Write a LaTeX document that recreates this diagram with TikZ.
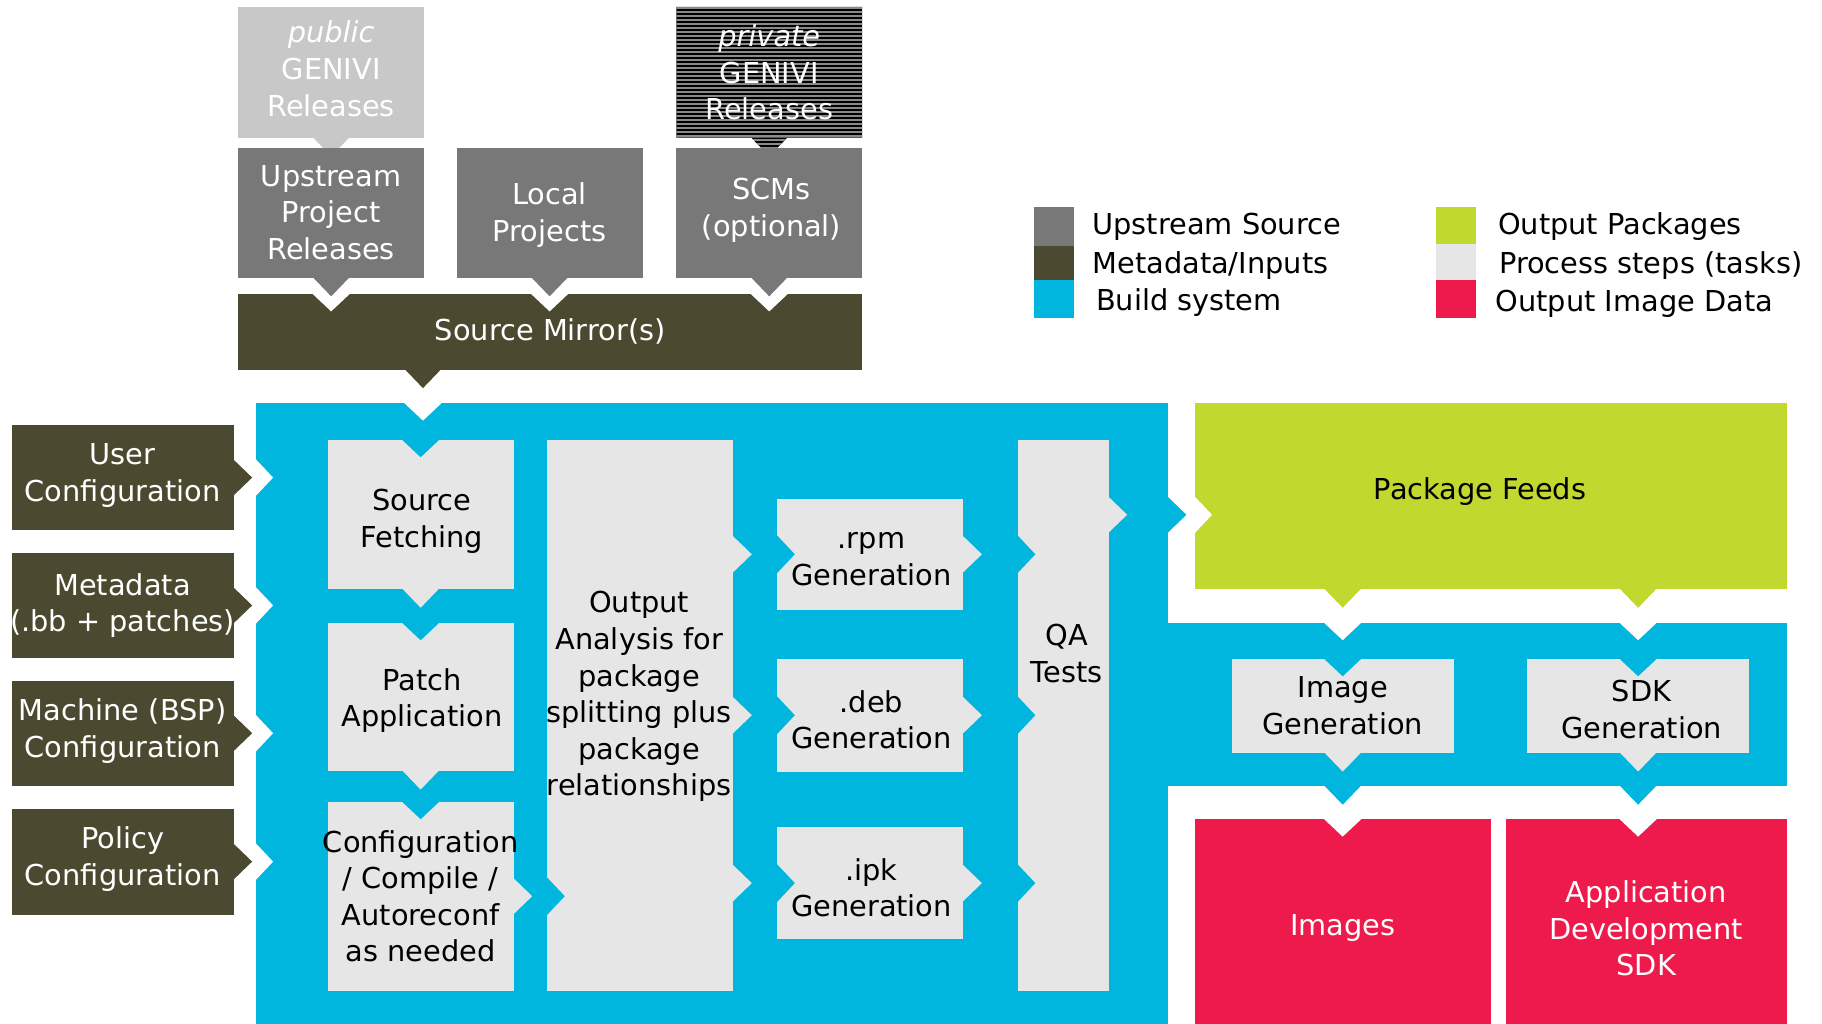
\documentclass[tikz,border=0pt]{standalone}
\usepackage{fontspec}
\setmainfont{DejaVu Sans}
\usetikzlibrary{calc}

\definecolor{srcgray}{HTML}{787878}
\definecolor{pubgray}{HTML}{C8C8C8}
\definecolor{olive}{HTML}{4B4A30}
\definecolor{bsblue}{HTML}{00B6DE}
\definecolor{pkggreen}{HTML}{C1D82F}
\definecolor{procgray}{HTML}{E6E6E6}
\definecolor{imgred}{HTML}{ED1A4B}
\definecolor{stripegray}{HTML}{8A8A8A}

\newcommand\txtfont{\fontsize{24.8}{31.5}\selectfont}
% arrow tips and the matching notches cut into the receiving box
\newcommand\tipw{16}
\newcommand\tiph{16}
\newcommand\notchh{15}
\newcommand\tipdown[2]{\fill[#1] ($#2+(-\tipw,-0.6)$) -- ($#2+(\tipw,-0.6)$) -- ($#2+(0,\tiph)$) -- cycle;}
\newcommand\tipright[2]{\fill[#1] ($#2+(-0.6,-\tipw)$) -- ($#2+(-0.6,\tipw)$) -- ($#2+(\tiph,0)$) -- cycle;}
\newcommand\notchtop[2]{\fill[#1] ($#2+(-\tipw-1,-1)$) -- ($#2+(\tipw+1,-1)$) -- ($#2+(0,\notchh)$) -- cycle;}
\newcommand\notchleft[2]{\fill[#1] ($#2+(-1,-\tipw-1)$) -- ($#2+(-1,\tipw+1)$) -- ($#2+(\notchh,0)$) -- cycle;}

\begin{document}
\begin{tikzpicture}[x=1pt,y=-1pt,
  blk/.style={rectangle, inner sep=0pt, outer sep=0pt, anchor=north west, align=center, font=\txtfont},
  sz/.style 2 args={minimum width=#1pt, minimum height=#2pt},
  pubbox/.style={blk, fill=pubgray, text=white},
  upbox/.style={blk, fill=srcgray, text=white},
  metabox/.style={blk, fill=olive, text=white},
  buildbox/.style={blk, fill=bsblue},
  taskbox/.style={blk, fill=procgray, text=black},
  pkgbox/.style={blk, fill=pkggreen, text=black},
  outbox/.style={blk, fill=imgred, text=white},
  lbl/.style={inner sep=0pt, align=center, font=\txtfont},
  swatch/.style={rectangle, inner sep=0pt, outer sep=0pt, anchor=north west, minimum width=34pt},
  legtext/.style={anchor=base west, inner sep=0pt, font=\txtfont}]

\useasboundingbox (0,0) rectangle (1568,881);
\fill[white] (0,0) rectangle (1568,881);

% build system area
\node[buildbox, sz={785}{545}] (bs) at (220,347) {};
\node[buildbox, sz={537.5}{140.5}] (band) at (1000,536) {};

% release sources above the upstream boxes
\node[pubbox, sz={160}{112.5}] (pub) at (205,6) {};
\node[lbl, text=white] (pub-t) at ($(pub.center)+(0,-3)$) {{\itshape public}\\GENIVI\\Releases};
\tipdown{pubgray}{(pub.south)}
\node[blk, sz={160}{112.5}] (priv) at (582,6) {};
\begin{scope}
  \clip (priv.north west) rectangle (priv.south east)
        ($(priv.south)+(-\tipw,-0.6)$) -- ($(priv.south)+(\tipw,-0.6)$) -- ($(priv.south)+(0,\tiph)$) -- cycle;
  \fill[black] (570,0) rectangle (760,140);
  \foreach \k in {0,...,39}
    \fill[stripegray] (570,{6+\k*3.44}) rectangle (760,{6+\k*3.44+1.72});
\end{scope}
\node[lbl, text=white] (priv-t) at (priv.center) {{\itshape private}\\GENIVI\\Releases};

% upstream sources
\node[upbox, sz={160}{112}] (up) at (205,127) {Upstream\\Project\\Releases};
\node[upbox, sz={160}{112}] (loc) at (393,127) {};
\node[lbl, text=white] (loc-t) at ($(loc.center)+(0,2)$) {Local\\Projects};
\node[upbox, sz={160}{112}] (scm) at (582,127) {};
\node[lbl, text=white] (scm-t) at ($(scm.center)+(2,-2)$) {SCMs\\(optional)};
\node[metabox, sz={537}{65}] (mir) at (205,253) {Source Mirror(s)};
\coordinate (mt) at ($(mir.south west)+(159,0)$);

% metadata inputs
\node[metabox, sz={191}{90}] (user) at (10,366) {};
\node[lbl, text=white] (user-t) at ($(user.center)+(0,-2)$) {User\\Configuration};
\node[metabox, sz={191}{90}] (meta) at (10,476) {Metadata\\\makebox[0pt]{(.bb + patches)}};
\node[metabox, sz={191}{90}] (mach) at (10,586) {};
\node[lbl, text=white] (mach-t) at ($(mach.center)+(0,-2)$) {Machine (BSP)\\Configuration};
\node[metabox, sz={191}{91}] (pol) at (10,696) {};
\node[lbl, text=white] (pol-t) at ($(pol.center)+(0,-2)$) {Policy\\Configuration};

% outputs
\node[pkgbox, sz={509.5}{160}] (pf) at (1028,347) {};
\node[lbl] (pf-t) at ($(pf.center)+(-9,-4)$) {Package Feeds};
\node[outbox, sz={255}{180}] (img) at (1028,705) {};
\node[lbl, text=white] (img-t) at ($(img.center)+(0,4)$) {Images};
\node[outbox, sz={241.5}{180}] (sdkout) at (1296,705) {};
\node[lbl, text=white] (sdkout-t) at ($(sdkout.center)+(0,4)$) {Application\\Development\\SDK};

% process steps
\node[taskbox, sz={160}{128.5}] (sf) at (282,378.5) {};
\node[lbl] (sf-t) at ($(sf.center)+(1,6)$) {Source\\Fetching};
\node[taskbox, sz={160}{127.5}] (pa) at (282,536) {};
\node[lbl] (pa-t) at ($(pa.center)+(1,3)$) {Patch\\Application};
\node[taskbox, sz={160}{162.5}] (cfg) at (282,690) {\makebox[0pt]{Configuration}\\/ Compile /\\Autoreconf\\as needed};
\node[taskbox, sz={160}{474}] (oa) at (471,378.5) {};
\node[lbl] (oa-t) at ($(oa.center)+(-1,-16)$) {Output\\Analysis for\\package\\splitting plus\\package\\relationships};
\node[taskbox, sz={160}{96}] (rpm) at (669,429) {};
\node[lbl] (rpm-t) at ($(rpm.center)+(1,4)$) {.rpm\\Generation};
\node[taskbox, sz={160}{97}] (deb) at (669,567) {};
\node[lbl] (deb-t) at ($(deb.center)+(1,4)$) {.deb\\Generation};
\node[taskbox, sz={160}{97}] (ipk) at (669,711.5) {};
\node[lbl] (ipk-t) at ($(ipk.center)+(1,4)$) {.ipk\\Generation};
\node[taskbox, sz={78}{474}] (qa) at (876,378.5) {};
\node[lbl] (qa-t) at ($(qa.center)+(3,-53)$) {QA\\Tests};
\coordinate (qt) at ($(qa.north east)+(0,64.5)$);
\node[taskbox, sz={191}{81}] (ig) at (1060,567) {Image\\Generation};
\node[taskbox, sz={191.5}{81}] (sdk) at (1314,567) {};
\node[lbl] (sdk-t) at ($(sdk.center)+(3,3)$) {SDK\\Generation};

% notches on a white background
\notchtop{white}{(up.south |- mir.north)}
\notchtop{white}{(loc.south |- mir.north)}
\notchtop{white}{(scm.south |- mir.north)}
\notchtop{white}{(mt |- bs.north)}
\notchleft{white}{(user.east -| bs.west)}
\notchleft{white}{(meta.east -| bs.west)}
\notchleft{white}{(mach.east -| bs.west)}
\notchleft{white}{(pol.east -| bs.west)}
\notchleft{white}{(qt -| pf.west)}
\notchtop{white}{(ig.north |- band.north)}
\notchtop{white}{(sdk.north |- band.north)}
\notchtop{white}{(ig.south |- img.north)}
\notchtop{white}{(sdk.south |- sdkout.north)}

% notches inside the build system
\notchtop{bsblue}{(sf.north)}
\notchtop{bsblue}{(pa.north)}
\notchtop{bsblue}{(cfg.north)}
\notchleft{bsblue}{(cfg.east -| oa.west)}
\notchleft{bsblue}{(rpm.west)}
\notchleft{bsblue}{(deb.west)}
\notchleft{bsblue}{(ipk.west)}
\notchleft{bsblue}{(rpm.east -| qa.west)}
\notchleft{bsblue}{(deb.east -| qa.west)}
\notchleft{bsblue}{(ipk.east -| qa.west)}
\notchtop{bsblue}{(ig.north)}
\notchtop{bsblue}{(sdk.north)}

% flow tips
\tipdown{srcgray}{(up.south)}
\tipdown{srcgray}{(loc.south)}
\tipdown{srcgray}{(scm.south)}
\tipdown{olive}{(mt)}
\tipright{olive}{(user.east)}
\tipright{olive}{(meta.east)}
\tipright{olive}{(mach.east)}
\tipright{olive}{(pol.east)}
\tipdown{procgray}{(sf.south)}
\tipdown{procgray}{(pa.south)}
\tipright{procgray}{(cfg.east)}
\tipright{procgray}{(rpm.west -| oa.east)}
\tipright{procgray}{(deb.west -| oa.east)}
\tipright{procgray}{(ipk.west -| oa.east)}
\tipright{procgray}{(rpm.east)}
\tipright{procgray}{(deb.east)}
\tipright{procgray}{(ipk.east)}
\tipright{procgray}{(qt)}
\tipright{bsblue}{(qt -| bs.east)}
\tipdown{pkggreen}{(ig.north |- pf.south)}
\tipdown{pkggreen}{(sdk.north |- pf.south)}
\tipdown{procgray}{(ig.south)}
\tipdown{procgray}{(sdk.south)}
\tipdown{bsblue}{(ig.south |- band.south)}
\tipdown{bsblue}{(sdk.south |- band.south)}

% legend
\node[swatch, minimum height=34pt, fill=srcgray] (sw1) at (890,178) {};
\node[swatch, minimum height=29pt, fill=olive] (sw2) at (890,212) {};
\node[swatch, minimum height=33pt, fill=bsblue] (sw3) at (890,241) {};
\node[swatch, minimum height=32pt, fill=pkggreen] (sw4) at (1236,178) {};
\node[swatch, minimum height=31pt, fill=procgray] (sw5) at (1236,210) {};
\node[swatch, minimum height=33pt, fill=imgred] (sw6) at (1236,241) {};
\node[legtext] (lg1) at (940,202) {Upstream Source};
\node[legtext] (lg2) at (940,235) {Metadata/Inputs};
\node[legtext] (lg3) at (943,267) {Build system};
\node[legtext] (lg4) at (1289,202) {Output Packages};
\node[legtext] (lg5) at (1290,235) {Process steps (tasks)};
\node[legtext] (lg6) at (1287,268) {Output Image Data};
\end{tikzpicture}
\end{document}
